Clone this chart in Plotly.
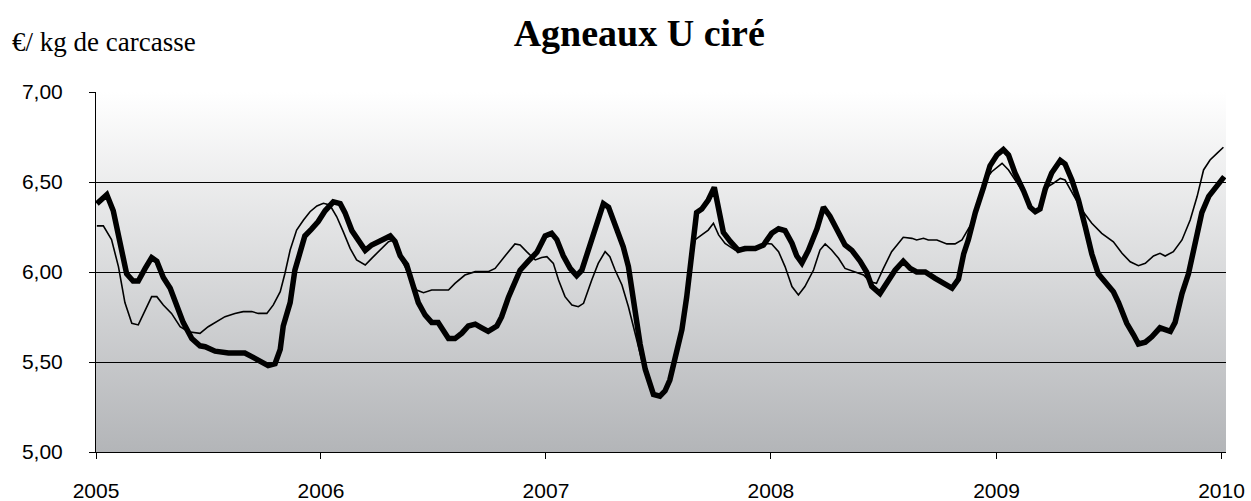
import base64
import pandas as pd
import plotly.graph_objects as go

# ---- data (week index from 1 Jan 2005, price in EUR/kg carcass) ----
thick_weeks = [0.2, 2.5, 4.0, 5.6, 7.1, 8.6, 9.8, 11.4, 12.9, 14.1, 15.6, 17.2, 18.7, 20.2, 22.2, 24.1,
               25.3, 27.6, 30.7, 34.5, 36.1, 38.4, 39.9, 41.5, 42.7, 43.4, 45.0, 46.1, 47.3, 48.4, 50.0,
               51.5, 53.1, 55.0, 56.6, 57.7, 59.3, 60.8, 62.4, 63.9, 66.2, 68.2, 69.3, 70.5, 72.0, 73.2,
               74.7, 76.3, 77.8, 79.3, 80.5, 81.7, 83.2, 84.8, 86.3, 87.9, 89.4, 90.9, 92.9, 94.0, 95.6,
               97.1, 98.3, 100.2, 102.2, 104.1, 105.6, 106.8, 108.3, 109.9, 111.4, 112.6, 114.5, 116.4,
               117.6, 118.8, 120.3, 122.2, 123.4, 124.6, 126.1, 127.3, 129.2, 130.7, 131.9, 133.0, 134.2,
               135.8, 136.9, 138.1, 139.2, 140.4, 141.9, 143.3, 144.3, 145.4, 147.0, 148.9, 150.4, 152.8,
               154.7, 156.6, 158.2, 159.7, 161.3, 162.4, 163.6, 165.1, 167.1, 168.6, 170.1, 172.1, 173.6,
               175.2, 175.9, 177.1, 178.6, 179.8, 181.7, 183.3, 185.2, 187.1, 188.7, 190.2, 192.2, 194.5,
               196.4, 198.4, 199.9, 201.1, 202.2, 203.8, 205.7, 207.2, 208.8, 210.3, 211.5, 213.0, 215.0,
               216.5, 217.7, 218.8, 220.0, 221.5, 223.5, 224.6, 226.2, 227.7, 229.3, 230.8, 232.3, 233.9,
               235.8, 237.0, 238.9, 240.5, 241.6, 243.2, 244.7, 246.6, 249.0, 250.1, 251.7, 253.2, 254.8,
               256.3, 257.9, 259.4, 261.5]
thick_values = [6.38, 6.43, 6.34, 6.16, 5.99, 5.95, 5.95, 6.02, 6.08, 6.06, 5.97, 5.91, 5.81, 5.72, 5.63, 5.59,
                5.585, 5.56, 5.55, 5.55, 5.53, 5.50, 5.48, 5.49, 5.57, 5.70, 5.83, 6.01, 6.12, 6.20, 6.24,
                6.28, 6.34, 6.39, 6.38, 6.33, 6.23, 6.18, 6.12, 6.15, 6.18, 6.20, 6.17, 6.09, 6.04, 5.94,
                5.83, 5.76, 5.72, 5.72, 5.68, 5.63, 5.63, 5.66, 5.70, 5.71, 5.69, 5.67, 5.70, 5.75, 5.86,
                5.94, 6.01, 6.06, 6.11, 6.20, 6.215, 6.18, 6.09, 6.02, 5.98, 6.01, 6.16, 6.29,
                6.38, 6.36, 6.26, 6.14, 6.03, 5.83, 5.60, 5.46, 5.32, 5.31, 5.34, 5.40, 5.53,
                5.68, 5.86, 6.09, 6.33, 6.35, 6.40, 6.47, 6.34, 6.22, 6.17, 6.12, 6.13, 6.13,
                6.15, 6.215, 6.24, 6.23, 6.16, 6.09, 6.05, 6.12, 6.24, 6.36, 6.31, 6.215, 6.15,
                6.12, 6.10, 6.06, 6.00, 5.92, 5.88, 5.94, 6.01, 6.06, 6.02, 6.00, 6.00, 5.965,
                5.94, 5.91, 5.96, 6.10, 6.18, 6.33, 6.47, 6.59, 6.65, 6.68, 6.65, 6.55, 6.45,
                6.36, 6.335, 6.35, 6.46, 6.55, 6.62, 6.60, 6.51, 6.40, 6.25, 6.10, 5.99, 5.94,
                5.89, 5.83, 5.715, 5.65, 5.60, 5.61, 5.64, 5.69, 5.67, 5.72, 5.88, 5.99, 6.18,
                6.33, 6.42, 6.47, 6.53]

thin_weeks = [0.2, 1.7, 3.6, 5.2, 6.7, 8.3, 9.8, 11.4, 12.9, 14.1, 15.6, 17.5, 19.5, 21.4, 22.9, 24.1, 26.0,
              28.0, 29.9, 32.2, 34.1, 36.1, 37.6, 39.6, 41.1, 42.7, 43.8, 45.0, 46.5, 48.1, 49.6, 51.2,
              52.7, 54.2, 55.8, 57.3, 58.9, 60.4, 62.4, 63.9, 65.8, 67.8, 68.9, 70.1, 71.6, 73.2, 74.3,
              75.9, 77.8, 80.1, 81.7, 83.2, 85.5, 87.9, 90.9, 92.5, 94.0, 95.6, 97.1, 98.3, 99.8, 101.8,
              103.3, 104.5, 106.0, 107.2, 108.7, 110.3, 111.8, 113.0, 114.9, 116.4, 118.0, 119.1, 120.3,
              121.9, 123.4, 125.0, 126.5, 128.1, 129.6, 131.2, 132.6, 134.2, 135.8, 136.9, 138.1, 138.8,
              140.4, 141.9, 143.1, 144.3, 145.8, 148.1, 150.4, 152.8, 155.1, 156.6, 158.2, 159.7, 161.3,
              162.8, 164.3, 166.3, 167.8, 169.0, 170.5, 172.1, 173.6, 175.9, 177.9, 179.4, 180.9, 182.5,
              184.4, 187.1, 189.1, 190.2, 191.8, 192.9, 194.9, 197.2, 199.1, 200.7, 202.2, 203.4, 204.4,
              206.1, 207.6, 210.0, 211.5, 213.0, 215.0, 216.5, 217.7, 218.8, 220.0, 221.9, 223.5, 224.6,
              226.5, 228.5, 230.8, 233.1, 235.8, 237.8, 239.7, 241.6, 243.2, 245.1, 246.6, 247.8, 249.7,
              251.7, 253.6, 255.2, 256.7, 258.2, 259.8, 261.3]
thin_values = [6.256, 6.256, 6.18, 6.03, 5.83, 5.715, 5.706, 5.79, 5.863, 5.863, 5.817, 5.77, 5.696, 5.668,
               5.665, 5.659, 5.696, 5.724, 5.752, 5.77, 5.78, 5.78, 5.77, 5.77, 5.817, 5.891, 5.993, 6.122,
               6.233, 6.289, 6.335, 6.367, 6.382, 6.372, 6.307, 6.224, 6.131, 6.067, 6.039, 6.076, 6.122,
               6.168, 6.178, 6.104, 6.03, 5.946, 5.90, 5.885, 5.90, 5.90, 5.90, 5.937, 5.983, 6.002, 6.002,
               6.02, 6.067, 6.113, 6.156, 6.15, 6.113, 6.067, 6.081, 6.085, 6.048, 5.956, 5.863, 5.817,
               5.807, 5.826, 5.956, 6.048, 6.113, 6.085, 6.011, 5.928, 5.807, 5.659, 5.511, 5.382, 5.32,
               5.32, 5.38, 5.52, 5.67, 5.85, 6.07, 6.178, 6.206, 6.233, 6.271, 6.206, 6.159, 6.122, 6.12,
               6.125, 6.159, 6.156, 6.113, 6.03, 5.919, 5.872, 5.919, 6.011, 6.122, 6.156, 6.122, 6.076,
               6.02, 6.002, 5.983, 5.946, 5.937, 6.02, 6.113, 6.193, 6.187, 6.178, 6.187, 6.178, 6.178,
               6.156, 6.156, 6.178, 6.243, 6.289, 6.38, 6.511, 6.557, 6.604, 6.567, 6.511, 6.44, 6.36,
               6.335, 6.35, 6.465, 6.493, 6.52, 6.511, 6.428, 6.344, 6.271, 6.215, 6.168, 6.104, 6.057,
               6.035, 6.048, 6.089, 6.104, 6.089, 6.113, 6.178, 6.289, 6.419, 6.567, 6.622, 6.659, 6.693]

y_ticks = [5.0, 5.5, 6.0, 6.5, 7.0]
y_tick_labels = ["5,00", "5,50", "6,00", "6,50", "7,00"]
title_text = "<b>Agneaux U ciré</b>"
unit_text = "€/ kg de carcasse"

base = pd.Timestamp("2005-01-01")


def to_dates(weeks):
    return [base + pd.Timedelta(days=w * 7) for w in weeks]


x_end = base + pd.Timedelta(days=261.9 * 7)

# gradient background as an SVG image placed below the grid
svg = (
    '<svg xmlns="http://www.w3.org/2000/svg" width="100" height="100" preserveAspectRatio="none">'
    '<defs><linearGradient id="g" x1="0" y1="0" x2="0" y2="1">'
    '<stop offset="0" stop-color="#ffffff"/><stop offset="1" stop-color="#b3b5b8"/>'
    '</linearGradient></defs><rect width="100" height="100" fill="url(#g)"/></svg>'
)
svg_uri = "data:image/svg+xml;base64," + base64.b64encode(svg.encode()).decode()

fig = go.Figure()
fig.add_trace(go.Scatter(x=to_dates(thin_weeks), y=thin_values, mode="lines",
                         line=dict(color="black", width=1.6), showlegend=False))
fig.add_trace(go.Scatter(x=to_dates(thick_weeks), y=thick_values, mode="lines",
                         line=dict(color="black", width=5.5), showlegend=False))

fig.update_layout(
    width=1251, height=501,
    margin=dict(l=96, r=25, t=92, b=49),
    paper_bgcolor="white", plot_bgcolor="rgba(0,0,0,0)",
    font=dict(family="Liberation Sans, Arial", color="black"),
    images=[dict(source=svg_uri, xref="paper", yref="paper", x=0, y=1, sizex=1, sizey=1,
                 sizing="stretch", layer="below", xanchor="left", yanchor="top")],
    title=dict(text=title_text, x=0.511, xanchor="center", y=1 - 33 / 501, yanchor="middle",
               font=dict(family="Liberation Serif, Times New Roman", size=38, color="black")),
    annotations=[dict(text=unit_text, xref="paper", yref="paper", x=-86 / 1130, xanchor="left",
                      y=1 + 50 / 360, yanchor="middle", showarrow=False,
                      font=dict(family="Liberation Serif, Times New Roman", size=27, color="black"))],
)
fig.update_xaxes(
    type="date", range=[base, x_end], tick0="2005-01-01", dtick="M12", tickformat="%Y",
    showgrid=False, showline=True, linecolor="black", linewidth=1, automargin=False,
    ticks="outside", ticklen=6, tickcolor="black", tickfont=dict(size=21), ticklabelstandoff=14,
    zeroline=False,
)
fig.update_yaxes(
    range=[5.0, 7.0], tickvals=y_ticks, ticktext=y_tick_labels, automargin=False,
    showgrid=True, gridcolor="black", gridwidth=1,
    showline=True, linecolor="black", linewidth=1,
    ticks="outside", ticklen=6, tickcolor="black", tickfont=dict(size=21), ticklabelstandoff=22,
    zeroline=False,
)

fig.write_html("out.html", config={"displayModeBar": False},
               post_script="document.body.style.margin='0px';")
